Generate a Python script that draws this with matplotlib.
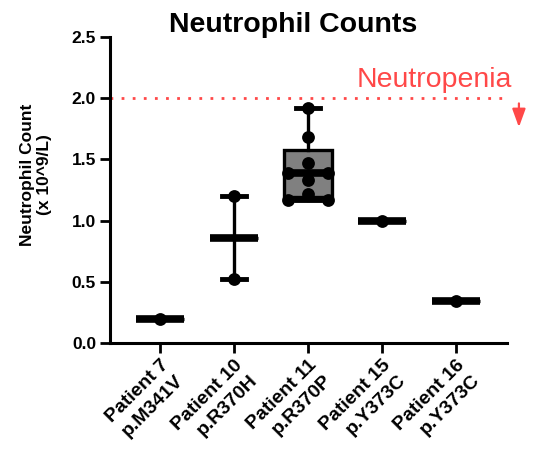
import numpy as np
import matplotlib.pyplot as plt

patients = ['Patient 7\np.M341V', 'Patient 10\np.R370H', 'Patient 11\np.R370P',
            'Patient 15\np.Y373C', 'Patient 16\np.Y373C']
p7 = [0.20]
p10 = [1.20, 0.52]
p11 = [1.92, 1.68, 1.47, 1.39, 1.39, 1.33, 1.22, 1.17, 1.17]
p15 = [1.00]
p16 = [0.34]
counts = [p7, p10, p11, p15, p16]
threshold = 2.0
yticks = [0.0, 0.5, 1.0, 1.5, 2.0, 2.5]

red = '#ff4848'

plt.rcParams['font.family'] = ['Liberation Sans', 'DejaVu Sans']
plt.rcParams['font.weight'] = 'bold'
plt.rcParams['axes.labelweight'] = 'bold'

fig = plt.figure(figsize=(5.4, 4.51), dpi=100)
ax = fig.add_axes([0.2037, 0.2395, 0.7352, 0.6785])

# box stats, prism style quartiles
stats = []
for vals in counts:
    v = np.array(vals)
    med = np.median(v)
    if len(v) >= 3:
        q1, q3 = np.percentile(v, [25, 75], method='weibull')
    else:
        q1 = q3 = med
    stats.append(dict(med=med, q1=q1, q3=q3, whislo=v.min(), whishi=v.max(), fliers=[]))

pos = np.arange(len(counts))
ax.bxp(stats, positions=pos, widths=0.66, capwidths=0.32, patch_artist=True,
       boxprops=dict(facecolor='#808080', edgecolor='black', linewidth=2.4),
       whiskerprops=dict(color='black', linewidth=2.4),
       capprops=dict(color='black', linewidth=3.5),
       medianprops=dict(color='black', linewidth=5.5))

# points, spread out duplicates
for i, vals in enumerate(counts):
    xs = []
    for j, v in enumerate(vals):
        n = vals.count(v)
        if n > 1:
            k = vals[:j].count(v)
            xs.append(i + (k - (n - 1) / 2) * 0.53)
        else:
            xs.append(i)
    ax.scatter(xs, vals, s=85, color='black', zorder=3, clip_on=False, linewidths=0)

ax.axhline(threshold, color=red, linewidth=2.0, linestyle=(0, (1, 3)), zorder=1, clip_on=False)
ax.text(1.0126, threshold + 0.09, 'Neutropenia', color=red, fontsize=20.5, fontweight='normal',
        ha='right', va='baseline', transform=ax.get_yaxis_transform())
ax.annotate('', xy=(1.03, 1.74), xytext=(1.03, 1.98),
            xycoords=('axes fraction', 'data'), textcoords=('axes fraction', 'data'),
            arrowprops=dict(arrowstyle='-|>,head_width=0.4,head_length=1.1', color=red, lw=1.6),
            annotation_clip=False)

ax.set_xlim(-0.676, 4.69)
ax.set_ylim(0, 2.5)
ax.set_yticks(yticks)
ax.set_yticklabels(['%.1f' % t for t in yticks], fontsize=12.5)
ax.set_xticks(pos)
ax.set_xticklabels(patients, rotation=45, ha='right', va='top', rotation_mode='anchor',
                   multialignment='right', fontsize=14, linespacing=1.3)

for s in ['top', 'right']:
    ax.spines[s].set_visible(False)
for s in ['left', 'bottom']:
    ax.spines[s].set_linewidth(2.2)
ax.tick_params(width=2.0, length=7, pad=3)

ax.set_ylabel('Neutrophil Count\n(x 10^9/L)', fontsize=12.5, fontweight='bold')
ax.yaxis.set_label_coords(-0.145, 0.55)
fig.text(0.543, 0.93, 'Neutrophil Counts', fontsize=20.5, ha='center', va='baseline')

fig.savefig('out.png', dpi=100)
